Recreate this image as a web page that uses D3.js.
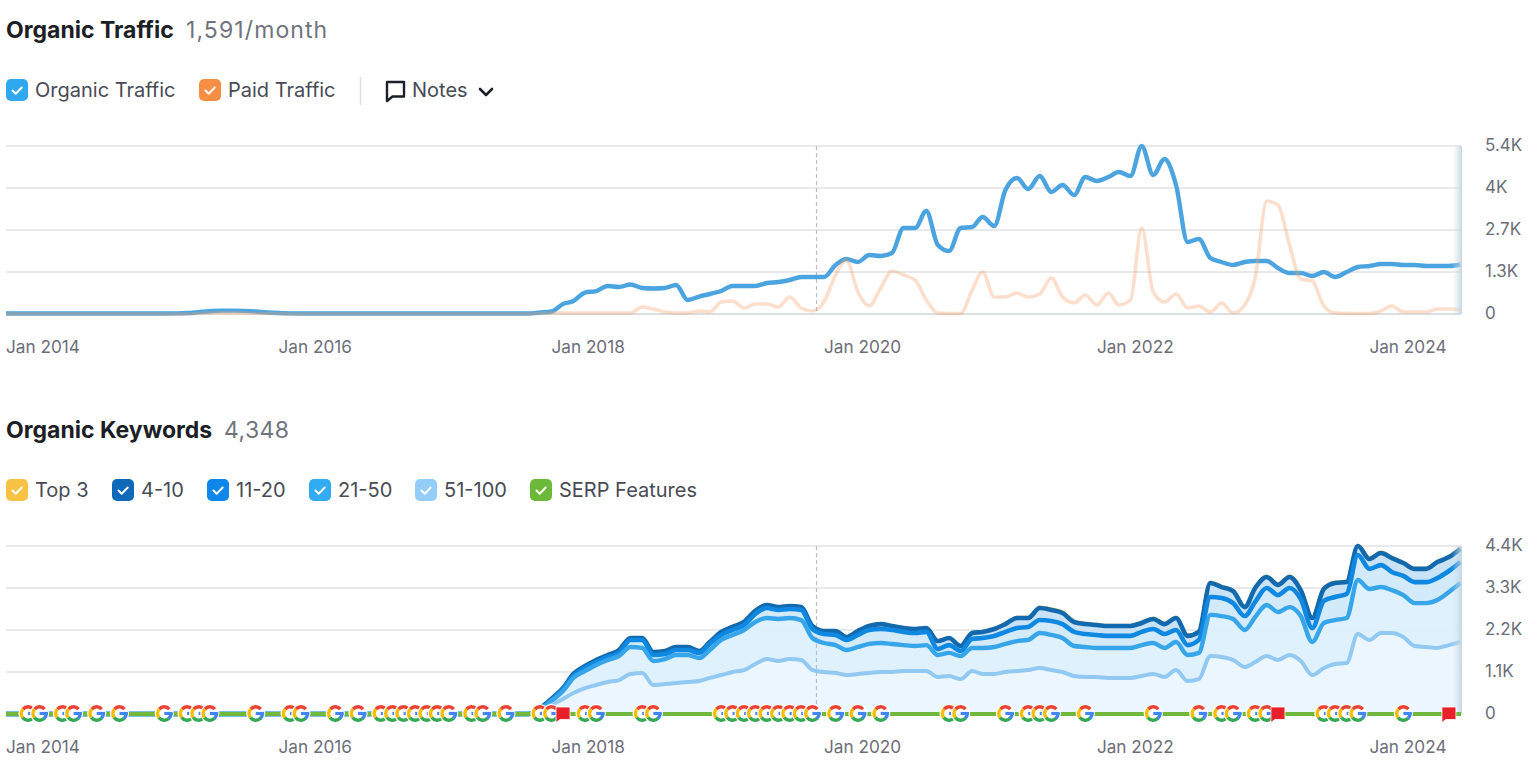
<!DOCTYPE html>
<html><head><meta charset="utf-8">
<style>html,body{margin:0;padding:0;background:#fff;overflow:hidden}svg{display:block}text{font-family:Inter,"Noto Sans",sans-serif}</style>
<script src="https://cdnjs.cloudflare.com/ajax/libs/d3/7.8.5/d3.min.js"></script>
</head><body><svg id="c" width="1536" height="767"></svg>
<script>
// monthly values, Jan 2014 onwards
const organicTraffic=[
16,16,16,16,16,16,16,16,16,16,16,16,
16,16,16,20,30,60,90,110,110,100,80,50,
30,20,16,16,16,16,16,16,16,16,16,16,
16,16,16,16,16,16,16,16,16,16,16,48,
80,321,418,691,739,900,868,948,836,820,836,932,
450,562,643,739,900,900,900,996,1028,1093,1189,1189,
1189,1575,1768,1671,1896,1864,1961,2764,2764,3310,2218,2025,
2764,2796,3118,2828,3985,4371,4018,4435,3921,4146,3825,4403,
4275,4403,4564,4435,5400,4467,4982,4146,2314,2411,1800,1671,
1575,1671,1703,1703,1478,1318,1318,1221,1350,1189,1350,1511,
1543,1607,1607,1575,1575,1543,1543,1543,1591];
const paidTraffic=[
0,0,0,0,0,0,0,0,0,0,0,0,
0,0,0,0,0,16,32,40,40,32,16,16,
16,0,0,0,0,0,0,0,0,0,0,0,
0,0,0,0,0,0,0,0,0,0,0,16,
32,32,32,32,32,32,32,32,225,160,64,32,
32,96,64,386,418,193,321,321,225,546,193,96,
386,1253,1736,707,257,836,1382,1253,1093,450,32,16,
16,771,1350,546,546,675,546,643,1157,546,354,611,
289,675,289,450,2764,707,386,643,193,257,64,354,
32,289,1157,3632,3503,2218,1125,1061,257,32,16,16,
16,96,257,64,64,64,160,160,129];
// cumulative keyword totals, one per legend band
const kw51to100=[
0,0,0,0,0,0,0,0,0,0,0,0,
0,0,0,0,0,0,0,0,0,0,0,0,
0,0,0,0,0,0,0,0,0,0,0,0,
0,0,0,0,0,0,0,0,0,0,0,80,
235,395,550,680,760,840,890,1050,1075,760,785,810,
840,865,945,1020,1100,1150,1310,1440,1390,1440,1415,1150,
1100,1075,1020,1050,1075,1100,1100,1125,1125,1125,970,995,
915,1125,1050,1050,1100,1125,1150,1205,1150,1100,995,970,
970,945,945,945,995,1050,970,1150,865,915,1520,1495,
1415,1230,1360,1520,1415,1545,1390,1020,1205,1310,1335,2095,
1940,2120,2120,2015,1780,1755,1730,1805,1885];
const kw21to50=[
0,0,0,0,0,0,0,0,0,0,0,0,
0,0,0,0,0,0,0,0,0,0,0,0,
0,0,0,0,0,0,0,0,0,0,0,0,
0,0,0,0,0,0,0,0,0,0,0,105,
340,600,945,1125,1285,1415,1520,1755,1730,1390,1440,1545,
1545,1465,1675,1940,2070,2200,2410,2515,2490,2515,2460,1990,
1860,1805,1675,1755,1835,1860,1835,1805,1780,1805,1545,1600,
1520,1730,1730,1755,1835,1910,1940,2120,2070,1990,1780,1755,
1730,1730,1730,1730,1805,1860,1730,1885,1545,1600,2595,2565,
2490,2200,2540,2855,2670,2800,2565,1885,2385,2460,2515,3510,
3275,3325,3245,3115,2905,2905,2985,3195,3430];
const kw11to20=[
0,0,0,0,0,0,0,0,0,0,0,0,
0,0,0,0,0,0,0,0,0,0,0,0,
0,0,0,0,0,0,0,0,0,0,0,0,
0,0,0,0,0,0,0,0,0,0,0,130,
365,655,995,1205,1360,1495,1600,1940,1940,1545,1570,1675,
1675,1600,1835,2070,2200,2330,2620,2775,2725,2750,2725,2225,
2095,2070,1940,2070,2200,2225,2200,2150,2120,2150,1700,1805,
1650,1965,1990,2045,2150,2250,2280,2460,2435,2355,2150,2095,
2070,2045,2045,2045,2150,2225,2095,2200,1805,1940,3065,3040,
2905,2565,2935,3300,3115,3300,3010,2250,2960,3065,3145,4165,
3800,3900,3720,3615,3455,3455,3560,3745,3980];
const kw4to10=[
0,0,0,0,0,0,0,0,0,0,0,0,
0,0,0,0,0,0,0,0,0,0,0,0,
0,0,0,0,0,0,0,0,0,0,0,0,
0,0,0,0,0,0,0,0,0,0,0,155,
395,680,1050,1255,1415,1545,1675,1990,1990,1625,1650,1755,
1755,1650,1885,2150,2280,2410,2700,2855,2800,2830,2800,2305,
2175,2175,2015,2175,2305,2355,2305,2250,2225,2250,1910,1990,
1780,2120,2150,2225,2355,2515,2515,2775,2725,2645,2410,2355,
2330,2305,2305,2305,2385,2490,2355,2515,2045,2150,3430,3325,
3220,2800,3300,3590,3380,3590,3245,2515,3275,3430,3455,4400,
4060,4215,4085,3955,3800,3800,3980,4110,4330];
const kwTop3=[
0,0,0,0,0,0,0,0,0,0,0,0,
0,0,0,0,0,0,0,0,0,0,0,0,
0,0,0,0,0,0,0,0,0,0,0,0,
0,0,0,0,0,0,0,0,0,0,0,160,
400,685,1055,1260,1420,1550,1680,1995,1995,1630,1655,1760,
1760,1655,1890,2155,2285,2415,2705,2860,2805,2835,2805,2310,
2180,2180,2020,2180,2310,2360,2310,2255,2230,2255,1915,1995,
1785,2125,2155,2235,2365,2530,2530,2800,2750,2670,2430,2370,
2345,2320,2320,2320,2400,2510,2375,2535,2055,2160,3450,3345,
3240,2815,3320,3610,3400,3610,3260,2525,3295,3455,3480,4420,
4080,4235,4100,3970,3815,3815,3995,4125,4348];
// month indexes (from Jan 2014) of the markers on the SERP Features line
const googleUpdates=[2,3,5,6,8,10,14,16,17,18,22,25,26,29,31,33,34,35,36,37,38,39,41,42,44,47,48,51,52,56,57,63,64,65,66,67,68,69,70,71,73,75,77,83,84,88,90,91,92,95,101,105,107,108,110,111,116,117,118,119,123];
const flagNotes=[49,112,127];
const xTickYears=[2014,2016,2018,2020,2022,2024];
const trafficTicks=[0,1350,2700,4050,5400];
const trafficTickLabels=["0","1.3K","2.7K","4K","5.4K"];
const keywordTicks=[0,1100,2200,3300,4400];
const keywordTickLabels=["0","1.1K","2.2K","3.3K","4.4K"];
const trafficLegend=[["Organic Traffic","#2fa8f0",6],["Paid Traffic","#f68f45",199]];
const keywordLegend=[["Top 3","#f8c344",6],["4-10","#0f68b8",112],["11-20","#0f86ea",207],["21-50","#33abf2",309],["51-100","#93cdf8",415],["SERP Features","#6cb93a",530]];

const svg=d3.select("#c");
const months=organicTraffic.map((_,i)=>new Date(2014,i,1));
const x=d3.scaleTime().domain([months[0],months[months.length-1]]).range([6,1460.5]);
const defs=svg.append("defs");
const g=defs.append("linearGradient").attr("id","edge");
g.append("stop").attr("offset",0).attr("stop-color","#dbe7ee").attr("stop-opacity",0);
g.append("stop").attr("offset",1).attr("stop-color","#b9cfdd").attr("stop-opacity",.85);

function frame(top,ticks,labels,maxV){
  const y=d3.scaleLinear().domain([0,maxV]).range([top+168,top]);
  const grid=svg.append("g");
  grid.selectAll("line").data(ticks).join("line")
    .attr("x1",6).attr("x2",1461).attr("y1",d=>y(d)).attr("y2",d=>y(d))
    .attr("stroke",d=>d===0?"#dcdfe3":"#e8e9ec").attr("stroke-width",2);
  return y;
}
function axes(top,y,ticks,labels){
  const ax=svg.append("g").attr("transform",`translate(1485,0)`)
    .call(d3.axisRight(y).tickValues(ticks).tickSize(0).tickPadding(0).tickFormat((d,i)=>labels[i]));
  ax.select(".domain").remove();
  ax.selectAll("text").attr("font-size",17).attr("fill","#6c6e79").attr("dy","0.3em").attr("y",-0.5).style("font-family","Inter");
  const bx=svg.append("g").attr("transform",`translate(0,${top+201})`)
    .call(d3.axisBottom(x).tickValues(xTickYears.map(v=>new Date(v,0,1))).tickSize(0).tickPadding(0).tickFormat(d3.timeFormat("Jan %Y")));
  bx.select(".domain").remove();
  bx.selectAll("text").attr("font-size",17.2).attr("fill","#6c6e79").attr("text-anchor","start").attr("dy","0.32em").attr("dx",-0.5).style("font-family","Inter");
}
function marker(top){
  const mx=x(new Date(2019,11,12));
  svg.append("line").attr("x1",mx).attr("x2",mx)
    .attr("y1",top).attr("y2",top+168).attr("stroke","#b9bdc4").attr("stroke-width",1.2).attr("stroke-dasharray","4 3");
}
function edge(top){
  svg.append("rect").attr("x",1452).attr("y",top).attr("width",10).attr("height",168).attr("fill","url(#edge)");
}
function check(gr){
  gr.append("path").attr("d","M6.5 11.5l3.2 3.2 6-6.2").attr("fill","none").attr("stroke","#fff").attr("stroke-width",2).attr("stroke-linecap","round").attr("stroke-linejoin","round");
}
function legend(items,top){
  items.forEach(([t,c,px])=>{
    const gr=svg.append("g").attr("transform",`translate(${px},${top})`);
    gr.append("rect").attr("width",22).attr("height",22).attr("rx",5).attr("fill",c);
    check(gr);
    gr.append("text").attr("x",29).attr("y",18).attr("font-size",20).attr("fill","#484b55").text(t);
  });
}
function title(t,sub,ty,subx,sp){
  svg.append("text").attr("x",6).attr("y",ty).attr("font-size",23).attr("font-weight",650).attr("fill","#1b2026").text(t);
  svg.append("text").attr("x",subx).attr("y",ty).attr("font-size",23).attr("letter-spacing",sp).attr("fill","#70737d").text(sub);
}

// Organic Traffic
title("Organic Traffic","1,591/month",38,186,1.1);
legend(trafficLegend,79);
svg.append("line").attr("x1",360.5).attr("x2",360.5).attr("y1",77).attr("y2",105).attr("stroke","#dcdee2").attr("stroke-width",1.5);
svg.append("path").attr("d","M387 82h17v14.5h-11.5l-5.5 4.5z").attr("fill","none").attr("stroke","#1b2026").attr("stroke-width",2.4).attr("stroke-linejoin","round");
svg.append("text").attr("x",412).attr("y",97).attr("font-size",20).attr("fill","#484b55").text("Notes");
svg.append("path").attr("d","M480 89l6 6 6-6").attr("fill","none").attr("stroke","#1b2026").attr("stroke-width",2.6).attr("stroke-linecap","round").attr("stroke-linejoin","round");

const y1=frame(146,trafficTicks,trafficTickLabels,5400);
marker(146);
const line1=d3.line().x((d,i)=>x(months[i])).y(d=>y1(d)).curve(d3.curveMonotoneX);
svg.append("path").attr("d",line1(organicTraffic)).attr("fill","none").attr("stroke","#4ba4e0").attr("stroke-width",4.4).attr("stroke-linejoin","round");
svg.append("path").attr("d",line1(paidTraffic)).attr("fill","none").attr("stroke","#f3a06a").attr("stroke-opacity",.34).attr("stroke-width",3.6).attr("stroke-linejoin","round");
edge(146);
axes(146,y1,trafficTicks,trafficTickLabels);

// Organic Keywords
title("Organic Keywords","4,348",438,224,0.4);
legend(keywordLegend,479);
const y2=frame(546,keywordTicks,keywordTickLabels,4400);
const bands=[
 {v:kw51to100,low:null,fill:"#e9f5fe",stroke:"#92c9f3",w:4},
 {v:kw21to50,low:kw51to100,fill:"#dcf0fd",stroke:"#36a5ea",w:4.4},
 {v:kw11to20,low:kw21to50,fill:"#cfe8fb",stroke:"#0f88e2",w:4.6},
 {v:kw4to10,low:kw11to20,fill:"#c6e0f5",stroke:"#1269ae",w:4.6},
];
bands.forEach(b=>{
  const a=d3.area().x((d,i)=>x(months[i])).y0((d,i)=>y2(b.low?b.low[i]:0)).y1(d=>y2(d)).curve(d3.curveMonotoneX);
  svg.append("path").attr("d",a(b.v)).attr("fill",b.fill).attr("fill-opacity",.92);
});
marker(546);
const line2=d3.line().x((d,i)=>x(months[i])).y(d=>y2(d)).curve(d3.curveMonotoneX);
svg.append("path").attr("d",line2(kwTop3)).attr("fill","none").attr("stroke","#f4cf5a").attr("stroke-width",3.4);
[bands[3],bands[2],bands[1],bands[0]].forEach(b=>{
  svg.append("path").attr("d",line2(b.v)).attr("fill","none").attr("stroke",b.stroke).attr("stroke-width",b.w).attr("stroke-linejoin","round");
});
edge(546);
svg.append("line").attr("x1",6).attr("x2",1461).attr("y1",y2(0)).attr("y2",y2(0)).attr("stroke","#6fb83c").attr("stroke-width",4);

// Google update glyphs
const arc=d3.arc().innerRadius(4.9).outerRadius(8.4);
const gSeg=[["#ea4335",-0.85,0.85],["#fbbc05",-2.2,-0.85],["#34a853",-3.95,-2.2],["#4285f4",1.55,2.4]];
const gm=svg.append("g").selectAll("g").data(googleUpdates).join("g")
  .attr("transform",d=>`translate(${x(months[d])},${y2(0)-0.5})`);
gm.append("circle").attr("r",9.6).attr("fill","#fff");
gSeg.forEach(([c,a0,a1])=>{
  gm.append("path").attr("d",arc({startAngle:a0,endAngle:a1})).attr("fill",c);
});
gm.append("rect").attr("x",0).attr("y",-1.6).attr("width",8.4).attr("height",3.2).attr("fill","#4285f4");
const fm=svg.append("g").selectAll("path").data(flagNotes).join("path")
  .attr("transform",d=>`translate(${x(months[d])},${y2(0)})`)
  .attr("d","M-7 -7h14v12.5h-10l-4 3z").attr("fill","#e8202a").attr("stroke","#fff").attr("stroke-width",.8);
axes(546,y2,keywordTicks,keywordTickLabels);
</script></body></html>
